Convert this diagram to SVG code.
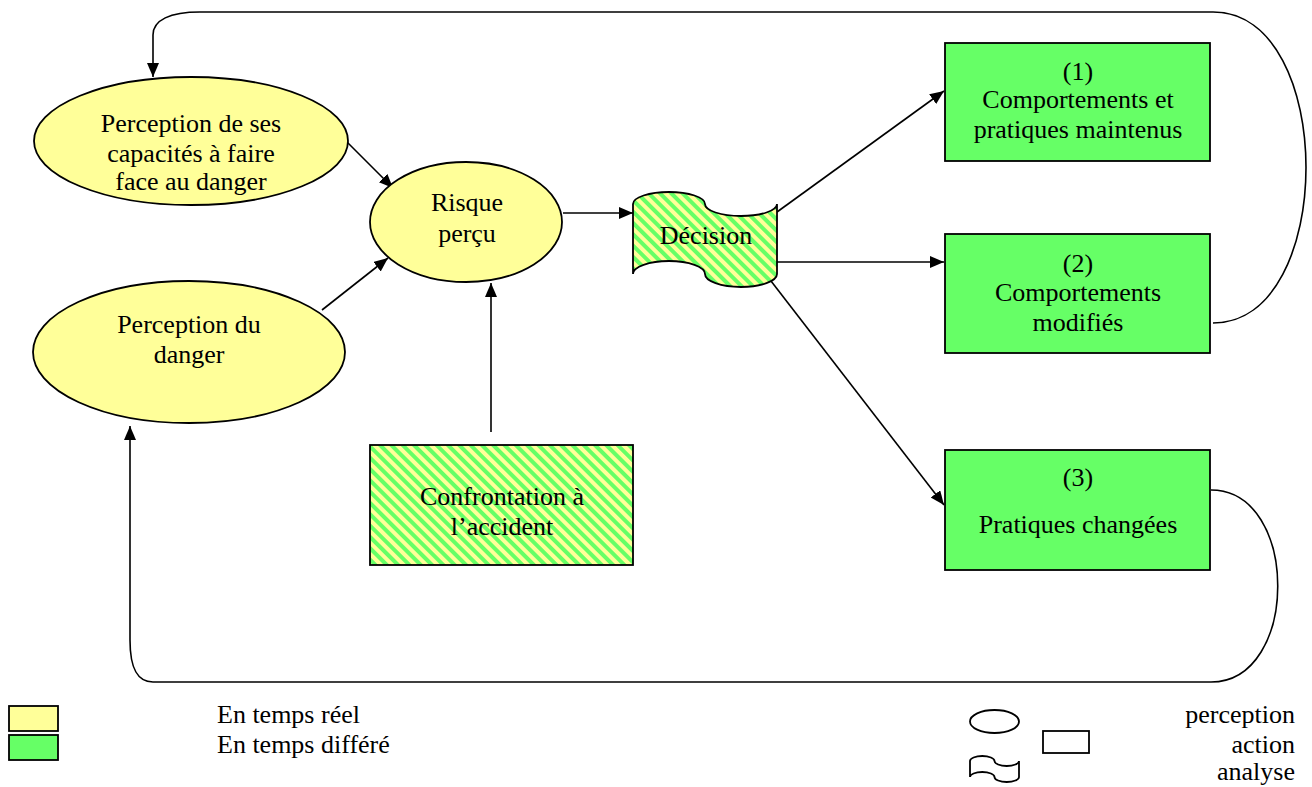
<svg xmlns="http://www.w3.org/2000/svg" width="1312" height="787" viewBox="0 0 1312 787" font-family="'Liberation Serif', 'DejaVu Serif', serif">
<style>
  text { font-family: 'Liberation Serif', 'DejaVu Serif', serif; font-size: 26px; fill: #000; text-anchor: middle; }
  .yel { fill: #FFFF99; stroke: #000; stroke-width: 1.8; }
  .grn { fill: #66FF66; stroke: #000; stroke-width: 1.8; }
  .hat { fill: url(#hatch); stroke: #000; stroke-width: 1.8; }
  .lg { fill: #fff; stroke: #000; stroke-width: 1.8; }
  .con { fill: none; stroke: #000; stroke-width: 1.6; }
  .arr { marker-end: url(#ah); }
</style>
<defs>
  <pattern id="hatch" patternUnits="userSpaceOnUse" width="8" height="8" patternTransform="rotate(-45)">
    <rect x="0" y="0" width="8" height="8" fill="#FFFF99"/>
    <rect x="0" y="0" width="4" height="8" fill="#66FF66"/>
  </pattern>
  <marker id="ah" markerUnits="userSpaceOnUse" markerWidth="16" markerHeight="14" refX="14" refY="6" orient="auto">
    <path d="M0,0 L14,6 L0,12 z" fill="#000"/>
  </marker>
  <clipPath id="clip1"><rect x="0" y="0" width="400" height="195"/></clipPath>
</defs>

<g id="connectors">
  <path class="con arr" d="M1213,323 C1337,323 1337,12 1213,12 H200 C170,12 153,20 153,35 V77"/>
  <path class="con arr" d="M1211,490 C1300,490 1300,682 1211,682 H153 C138,682 130,670 130,640 V426"/>
  <line class="con arr" x1="347" y1="142" x2="393" y2="188"/>
  <line class="con arr" x1="322" y1="310" x2="388" y2="258"/>
  <line class="con arr" x1="491" y1="432" x2="491" y2="283"/>
  <line class="con arr" x1="563" y1="213" x2="633" y2="213"/>
  <line class="con arr" x1="777" y1="212" x2="944" y2="91"/>
  <line class="con arr" x1="777" y1="262" x2="944" y2="262"/>
  <line class="con arr" x1="771" y1="281" x2="944" y2="505"/>
</g>

<g id="n-capacites">
  <ellipse class="yel" cx="191" cy="141" rx="157" ry="64"/>
  <text x="191" y="132">Perception de ses</text>
  <text x="191" y="162">capacités à faire</text>
  <text x="191" y="190" clip-path="url(#clip1)">face au danger</text>
</g>

<g id="n-danger">
  <ellipse class="yel" cx="189" cy="352" rx="156" ry="71"/>
  <text x="189" y="333">Perception du</text>
  <text x="189" y="363">danger</text>
</g>

<g id="n-risque">
  <ellipse class="yel" cx="466" cy="222" rx="96" ry="60"/>
  <text x="467" y="211">Risque</text>
  <text x="467" y="242">perçu</text>
</g>

<g id="n-confrontation">
  <rect class="hat" x="370" y="445" width="263" height="120"/>
  <text x="502" y="505">Confrontation à</text>
  <text x="502" y="535">l’accident</text>
</g>

<g id="n-decision">
  <path class="hat" d="M633,204 A36,12 0 0 1 705,204 A36,12 0 0 0 777,204 V274 A36,13 0 0 1 705,274 A36,13 0 0 0 633,274 Z"/>
  <text x="706" y="244">Décision</text>
</g>

<g id="n-box1">
  <rect class="grn" x="945" y="43" width="265" height="118"/>
  <text x="1078" y="80">(1)</text>
  <text x="1078" y="108">Comportements et</text>
  <text x="1078" y="138">pratiques maintenus</text>
</g>

<g id="n-box2">
  <rect class="grn" x="945" y="234" width="265" height="119"/>
  <text x="1078" y="272">(2)</text>
  <text x="1078" y="301">Comportements</text>
  <text x="1078" y="331">modifiés</text>
</g>

<g id="n-box3">
  <rect class="grn" x="945" y="450" width="265" height="120"/>
  <text x="1078" y="486">(3)</text>
  <text x="1078" y="533">Pratiques changées</text>
</g>

<g id="legend">
  <rect class="yel" x="9" y="706" width="49" height="25"/>
  <rect class="grn" x="9" y="735" width="49" height="25"/>
  <text x="217" y="723" style="text-anchor:start">En temps réel</text>
  <text x="217" y="753" style="text-anchor:start">En temps différé</text>
  <ellipse class="lg" cx="994.5" cy="721.5" rx="24.5" ry="11.5"/>
  <rect class="lg" x="1043" y="731" width="46" height="22"/>
  <path class="lg" d="M970,761 A12.25,5 0 0 1 994.5,761 A12.25,5 0 0 0 1019,761 V777 A12.25,5 0 0 1 994.5,777 A12.25,5 0 0 0 970,777 Z"/>
  <text x="1295" y="723" style="text-anchor:end">perception</text>
  <text x="1295" y="753" style="text-anchor:end">action</text>
  <text x="1295" y="780" style="text-anchor:end">analyse</text>
</g>
</svg>
